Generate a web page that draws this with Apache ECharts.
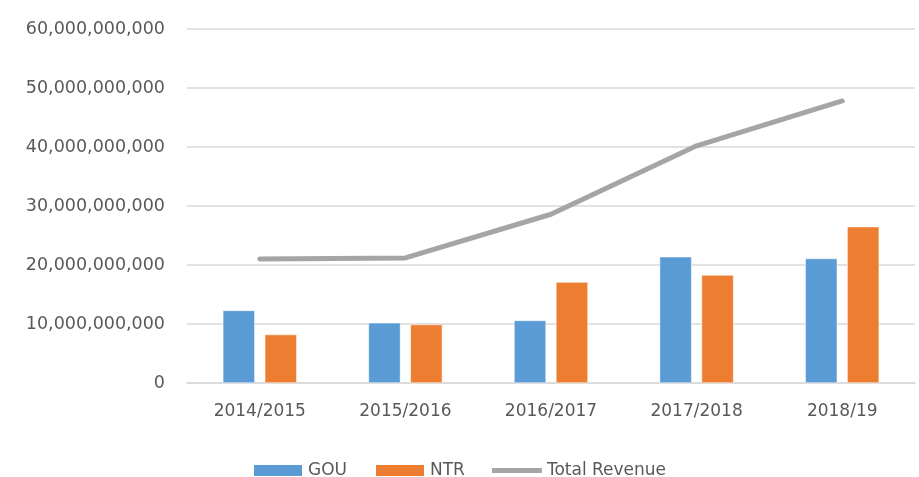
<!DOCTYPE html>
<html>
<head>
<meta charset="utf-8">
<script src="https://cdn.jsdelivr.net/npm/echarts@6/dist/echarts.min.js"></script>
<style>
  html, body { margin: 0; padding: 0; background: #fff; }
  #chart { width: 919px; height: 477px; }
</style>
</head>
<body>
<div id="chart"></div>
<script>
// 数据
const categories = ['2014/2015', '2015/2016', '2016/2017', '2017/2018', '2018/19'];
const gou = [12300000000, 10200000000, 10600000000, 21400000000, 21100000000];
const ntr = [8200000000, 9900000000, 17100000000, 18300000000, 26500000000];
const totalRevenue = [21000000000, 21200000000, 28600000000, 40200000000, 47800000000];
const yTicks = [0, 10000000000, 20000000000, 30000000000, 40000000000, 50000000000, 60000000000];

const font = '"DejaVu Sans", sans-serif';
const textColor = '#595959';

const myChart = echarts.init(document.getElementById('chart'));

const option = {
  animation: false,
  grid: { left: 187, right: 4, top: 29, bottom: 94 },
  legend: {
    top: 457,
    left: 247,
    itemWidth: 50,
    itemHeight: 13,
    itemGap: 27,
    textStyle: { color: textColor, fontSize: 17, fontFamily: font },
    data: [
      { name: 'GOU', icon: 'rect' },
      { name: 'NTR', icon: 'rect' },
      // 折线图例：细长条
      { name: 'Total Revenue', icon: 'path://M0,0L50,0L50,5L0,5Z' }
    ]
  },
  xAxis: {
    type: 'category',
    data: categories,
    axisLine: { lineStyle: { color: '#d9d9d9', width: 1.5 } },
    axisTick: { show: false },
    axisLabel: { color: textColor, fontSize: 17, fontFamily: font, margin: 20 }
  },
  yAxis: {
    type: 'value',
    min: yTicks[0],
    max: yTicks[yTicks.length - 1],
    interval: yTicks[1] - yTicks[0],
    axisLine: { show: false },
    axisTick: { show: false },
    splitLine: { lineStyle: { color: '#d9d9d9', width: 1.5 } },
    axisLabel: {
      color: textColor, fontSize: 17.5, fontFamily: font, margin: 22,
      formatter: v => v.toLocaleString('en-US')
    }
  },
  series: [
    {
      name: 'GOU', type: 'bar', data: gou,
      barWidth: 32, barGap: '31%',
      itemStyle: { color: '#5B9BD5', borderColor: '#fff', borderWidth: 0.5 }
    },
    {
      name: 'NTR', type: 'bar', data: ntr,
      barWidth: 32,
      itemStyle: { color: '#ED7D31', borderColor: '#fff', borderWidth: 0.5 }
    },
    {
      name: 'Total Revenue', type: 'line', data: totalRevenue,
      symbol: 'none',
      lineStyle: { color: '#A5A5A5', width: 5, cap: 'round', join: 'round' },
      itemStyle: { color: '#A5A5A5' }
    }
  ]
};

option && myChart.setOption(option);
</script>
</body>
</html>
